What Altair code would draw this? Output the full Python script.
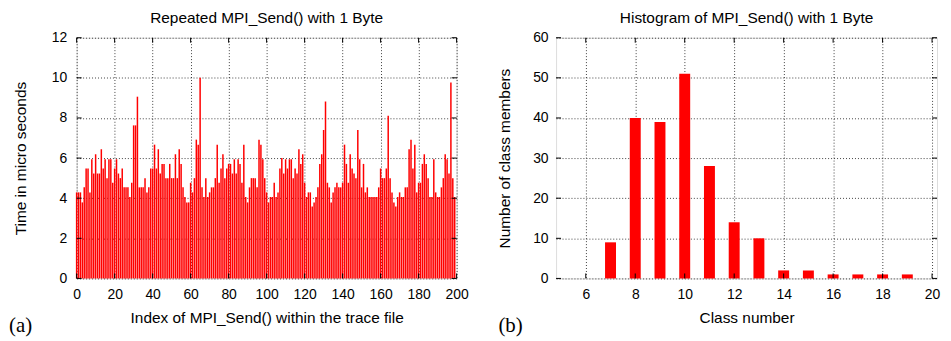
import altair as alt
import pandas as pd

FONT = "Liberation Sans"

# ---- data: left panel (time of each MPI_Send, micro seconds) ----
times = [
    4.29, 4.29, 4.29, 3.79, 4.54, 5.48, 5.48, 4.29, 5.94, 5.23,
    6.19, 5.23, 5.23, 6.44, 5.48, 5.94, 5.0, 5.94, 5.94, 4.77,
    5.48, 5.94, 5.23, 5.0, 5.48, 4.54, 4.54, 4.54, 4.06, 4.77,
    7.63, 7.63, 9.06, 4.54, 4.54, 4.54, 5.0, 4.29, 4.54, 5.48,
    5.48, 6.67, 5.48, 6.44, 5.23, 5.71, 5.71, 5.0, 5.0, 5.71,
    5.0, 5.0, 6.19, 5.0, 6.44, 5.71, 4.54, 4.06, 3.79, 3.79,
    4.77, 4.29, 5.0, 6.92, 6.67, 10.0, 4.54, 4.06, 5.0, 4.06,
    4.29, 4.54, 4.54, 5.0, 6.67, 4.77, 5.48, 6.19, 5.0, 5.48,
    5.71, 5.71, 5.23, 5.94, 5.23, 5.94, 5.71, 4.77, 6.67, 4.06,
    3.79, 4.54, 5.0, 5.0, 5.0, 4.54, 6.92, 6.67, 5.94, 5.0,
    4.29, 3.79, 4.06, 4.06, 4.77, 4.06, 4.29, 5.48, 6.0, 5.23,
    5.94, 5.48, 5.94, 5.94, 5.0, 5.48, 5.23, 6.44, 5.71, 6.19,
    4.77, 4.06, 4.29, 4.29, 3.58, 3.79, 4.06, 4.54, 5.71, 6.19,
    7.4, 8.82, 4.77, 4.54, 3.79, 4.29, 4.54, 4.77, 4.54, 4.54,
    4.77, 6.67, 5.71, 4.77, 6.19, 5.48, 5.23, 5.0, 7.4, 5.94,
    4.54, 5.71, 4.29, 4.54, 4.06, 4.06, 4.06, 4.06, 4.06, 4.54,
    5.48, 5.0, 5.0, 5.48, 8.11, 5.0, 4.29, 3.79, 3.58, 4.06,
    4.29, 4.06, 4.06, 4.54, 4.54, 6.44, 6.92, 5.48, 6.67, 4.29,
    4.77, 4.77, 5.71, 6.19, 5.71, 5.0, 4.06, 4.06, 5.94, 4.29,
    4.06, 4.06, 4.54, 5.0, 6.19, 5.94, 5.23, 9.77, 5.0, 4.06,
]
index = list(range(len(times)))

# ---- data: right panel (histogram) ----
classes = [7, 8, 9, 10, 11, 12, 13, 14, 15, 16, 17, 18, 19]
counts = [9, 40, 39, 51, 28, 14, 10, 2, 2, 1, 1, 1, 1]

x1_ticks = [0, 20, 40, 60, 80, 100, 120, 140, 160, 180, 200]
y1_ticks = [0, 2, 4, 6, 8, 10, 12]
x2_ticks = [6, 8, 10, 12, 14, 16, 18, 20]
y2_ticks = [0, 10, 20, 30, 40, 50, 60]

W1, W2, H = 382, 383, 242
TICK = 5

common_axis = dict(
    grid=True, gridColor="#000000", gridDash=[1, 2], gridOpacity=0.75, gridWidth=1,
    ticks=False, domain=False, labelFont=FONT, labelFontSize=14, labelColor="#000000",
    titleFont=FONT, titleFontSize=15.5, titleFontWeight="normal", titleColor="#000000",
    labelFlush=False, labelOverlap=False,
)


def panel(df, xdom, ydom, xt, yt, xtitle, ytitle, title, tag, W, mark, ylabpad, ytitpad, tagx):
    X = alt.X("x:Q", scale=alt.Scale(domain=xdom, nice=False, zero=False),
              axis=alt.Axis(values=xt, title=xtitle, labelPadding=9, titlePadding=9, **common_axis))
    Y = alt.Y("y:Q", scale=alt.Scale(domain=ydom, nice=False),
              axis=alt.Axis(values=yt, title=ytitle, labelPadding=ylabpad, titlePadding=ytitpad, **common_axis))

    if mark == "rule":
        data_layer = alt.Chart(df).mark_rule(color="#ff0000", strokeWidth=1.5).encode(
            x=X, y=Y, y2=alt.datum(0))
    else:
        data_layer = alt.Chart(df).mark_bar(color="#ff0000", size=11).encode(
            x=X, y=Y, y2=alt.datum(0))

    dfx = pd.DataFrame({"x": xt})
    dfy = pd.DataFrame({"y": yt})
    tb = alt.Chart(dfx).mark_rule(color="#000000", strokeWidth=1).encode(
        x=X, y=alt.value(H), y2=alt.value(H - TICK))
    tt = alt.Chart(dfx).mark_rule(color="#000000", strokeWidth=1).encode(
        x=X, y=alt.value(0), y2=alt.value(TICK))
    tl = alt.Chart(dfy).mark_rule(color="#000000", strokeWidth=1).encode(
        y=Y, x=alt.value(0), x2=alt.value(TICK))
    tr = alt.Chart(dfy).mark_rule(color="#000000", strokeWidth=1).encode(
        y=Y, x=alt.value(W - TICK), x2=alt.value(W))

    label = alt.Chart(pd.DataFrame({"t": [tag]})).mark_text(
        font="Liberation Serif", fontSize=21, align="left", baseline="middle", color="#000000"
    ).encode(x=alt.value(tagx), y=alt.value(290), text="t:N")

    return alt.layer(data_layer, tb, tt, tl, tr, label).properties(
        width=W, height=H,
        title=alt.TitleParams(title, font=FONT, fontSize=15.5, fontWeight="normal",
                              offset=4, frame="group", anchor="middle", color="#000000"),
    )


left = panel(pd.DataFrame({"x": index, "y": times}), [0, 200], [0, 12], x1_ticks, y1_ticks,
             "Index of MPI_Send() within the trace file", "Time in micro seconds",
             "Repeated MPI_Send() with 1 Byte", "(a)", W1, "rule", 10, 23, -68)
right = panel(pd.DataFrame({"x": classes, "y": counts}), [5, 20], [0, 60], x2_ticks, y2_ticks,
              "Class number", "Number of class members",
              "Histogram of MPI_Send() with 1 Byte", "(b)", W2, "bar", 8, 20, -58)

chart = alt.hconcat(left, right, spacing=27).properties(
    padding={"left": 0, "top": 2, "right": 2, "bottom": 0}
).configure_view(stroke="#000000", strokeWidth=1).configure(background="white")

chart.save("out.html", embed_options={"renderer": "svg", "actions": False})
